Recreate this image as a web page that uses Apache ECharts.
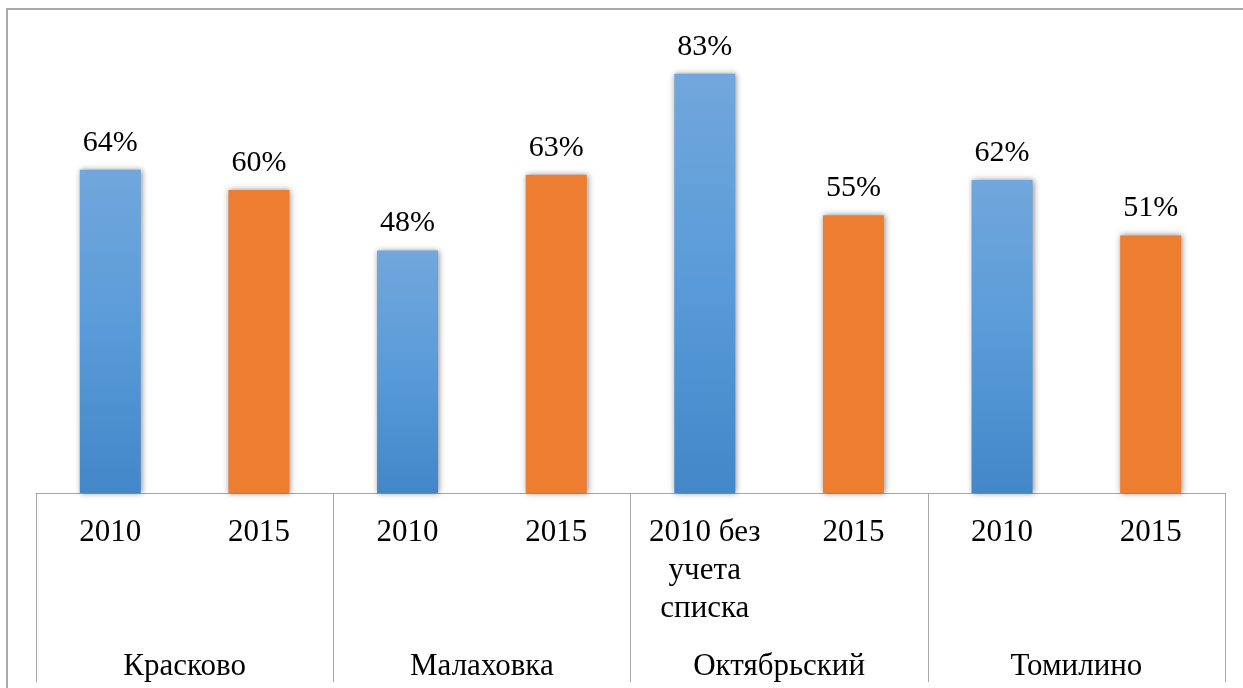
<!DOCTYPE html>
<html>
<head>
<meta charset="utf-8">
<script src="https://cdn.jsdelivr.net/npm/echarts@6/dist/echarts.min.js"></script>
<style>
  html, body { margin: 0; padding: 0; background: #fff; }
  #frame {
    position: absolute; left: 6px; top: 8px; right: -4px; bottom: -4px;
    border-left: 2px solid #a9a9a9; border-top: 2px solid #a9a9a9;
  }
  #chart { position: absolute; left: 0; top: 0; width: 1243px; height: 688px; }
</style>
</head>
<body>
<div id="frame"></div>
<div id="chart"></div>
<script>
// подписи по годам (нижний ряд категорий)
const years = ['2010', '2015', '2010', '2015', '2010 без\nучета\nсписка', '2015', '2010', '2015'];
// поселки (второй ряд)
const places = ['Красково', 'Малаховка', 'Октябрьский', 'Томилино'];
// доли, '-' там где столбца нет
const values2010 = [0.64, '-', 0.48, '-', 0.83, '-', 0.62, '-'];
const values2015 = ['-', 0.60, '-', 0.63, '-', 0.55, '-', 0.51];

const font = "'Times New Roman', 'Liberation Serif', serif";

const chart = echarts.init(document.getElementById('chart'));

const label = {
  show: true,
  position: 'top',
  distance: 12,
  color: '#000',
  fontFamily: font,
  fontSize: 30,
  formatter: p => Math.round(p.value * 100) + '%'
};

const shadow = {
  shadowBlur: 6,
  shadowOffsetX: 1,
  shadowColor: 'rgba(0,0,0,0.45)'
};

chart.setOption({
  animation: false,
  grid: { left: 36, right: 18, top: 38.5, bottom: 195 },
  xAxis: [
    {
      type: 'category',
      data: years,
      axisLine: { lineStyle: { color: '#a6a6a6', width: 1 } },
      axisTick: { show: false },
      axisLabel: {
        color: '#000', fontFamily: font, fontSize: 31, lineHeight: 38,
        margin: 21, interval: 0
      }
    },
    {
      type: 'category',
      position: 'bottom',
      data: places,
      axisLine: { show: false },
      axisTick: { show: true, length: 189, lineStyle: { color: '#a6a6a6', width: 1 } },
      axisLabel: {
        color: '#000', fontFamily: font, fontSize: 31,
        margin: 158, interval: 0
      }
    }
  ],
  yAxis: { type: 'value', min: 0, max: 0.9, show: false, splitLine: { show: false } },
  series: [
    {
      name: '2010',
      type: 'bar',
      xAxisIndex: 0,
      data: values2010,
      barWidth: 61,
      barGap: '-100%',
      label: label,
      itemStyle: Object.assign({
        color: new echarts.graphic.LinearGradient(0, 0, 0, 1, [
          { offset: 0, color: '#71a7dc' },
          { offset: 0.5, color: '#599bd8' },
          { offset: 1, color: '#4387c9' }
        ])
      }, shadow)
    },
    {
      name: '2015',
      type: 'bar',
      xAxisIndex: 0,
      data: values2015,
      barWidth: 61,
      barGap: '-100%',
      label: label,
      itemStyle: Object.assign({ color: '#ed7d31' }, shadow)
    }
  ]
});
</script>
</body>
</html>
